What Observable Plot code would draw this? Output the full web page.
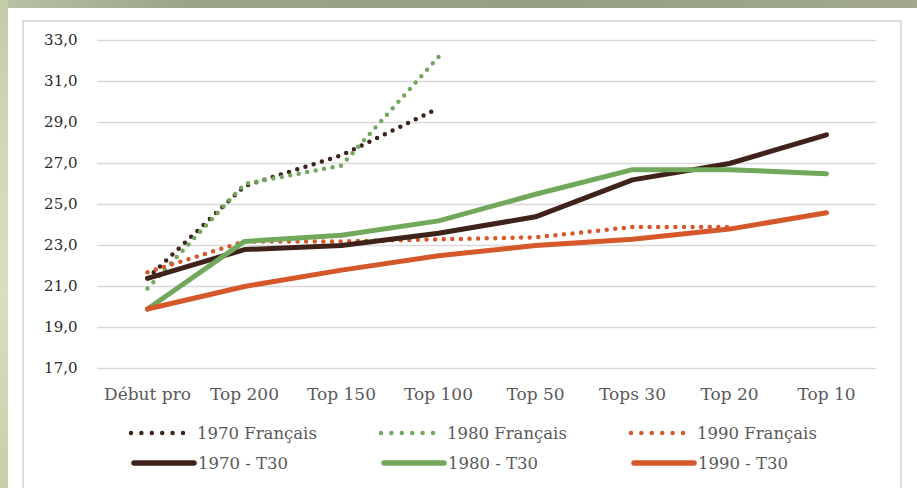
<!DOCTYPE html>
<html>
<head>
<meta charset="utf-8">
<script src="https://cdn.jsdelivr.net/npm/d3@7"></script>
<script src="https://cdn.jsdelivr.net/npm/@observablehq/plot@0.6"></script>
<style>
  html, body { margin: 0; padding: 0; background: #ffffff; }
  #wrap { position: relative; width: 917px; height: 488px; overflow: hidden; background: #ffffff; }
  #topband { position: absolute; left: 0; top: 0; width: 917px; height: 8px;
    background: linear-gradient(90deg, #b9c2a4 0%, #9ba38a 20%, #979e86 60%, #a2a890 100%); }
  #leftband { position: absolute; left: 0; top: 0; width: 8px; height: 488px;
    background: linear-gradient(180deg, #c3cca9 0%, #cfd8b8 30%, #d8dfbf 60%, #c7cfa9 100%); }
  #panel { position: absolute; left: 22px; top: 20px; width: 880px; height: 480px;
    border: 2px solid #dcdcdc; box-sizing: border-box; }
  #chart { position: absolute; left: 0; top: 0; }
  #legend { position: absolute; left: 0; top: 0; width: 917px; height: 488px; pointer-events: none;
    font-family: "DejaVu Serif", serif; font-size: 16.5px; color: #595959; }
  .item { position: absolute; display: flex; align-items: center; white-space: nowrap; }
  .item svg { display: block; margin-right: 1px; }
</style>
</head>
<body>
<div id="wrap">
  <div id="topband"></div>
  <div id="leftband"></div>
  <div id="panel"></div>
  <div id="chart"></div>
  <div id="legend"></div>
</div>
<script>
// ---- data ----
const categories = ["Début pro", "Top 200", "Top 150", "Top 100", "Top 50", "Tops 30", "Top 20", "Top 10"];
const seriesNames = ["1970 Français", "1980 Français", "1990 Français", "1970 - T30", "1980 - T30", "1990 - T30"];
const fr1970 = [21.4, 25.9, 27.4, 29.7, null, null, null, null];
const fr1980 = [20.9, 26.0, 26.9, 32.2, null, null, null, null];
const fr1990 = [21.7, 23.2, 23.2, 23.3, 23.4, 23.9, 23.9, null];
const t1970 = [21.4, 22.8, 23.0, 23.6, 24.4, 26.2, 27.0, 28.4];
const t1980 = [19.9, 23.2, 23.5, 24.2, 25.5, 26.7, 26.7, 26.5];
const t1990 = [19.9, 21.0, 21.8, 22.5, 23.0, 23.3, 23.8, 24.6];
const yTicks = [17, 19, 21, 23, 25, 27, 29, 31, 33];

const seriesValues = [fr1970, fr1980, fr1990, t1970, t1980, t1990];
const colors = ["#3f231a", "#72a85c", "#d5582b", "#3f231a", "#72a85c", "#d5582b"];
const dotted = [true, true, true, false, false, false];

const rows = [];
seriesNames.forEach((s, i) => {
  seriesValues[i].forEach((v, j) => {
    if (v != null) rows.push({series: s, cat: categories[j], value: v});
  });
});

const fmt = d => d.toFixed(1).replace(".", ",");
const font = "\"DejaVu Serif\", serif";

const marks = [
  Plot.gridY(yTicks, {stroke: "#d9d9d9", strokeOpacity: 1, strokeWidth: 1.6}),
  Plot.axisY(yTicks, {tickSize: 0, tickPadding: 20, tickFormat: fmt, fill: "#2b2b2b", fontSize: 15}),
  Plot.axisX({tickSize: 0, tickPadding: 19, fill: "#595959", fontSize: 17})
];
seriesNames.forEach((s, i) => {
  const data = rows.filter(r => r.series === s);
  if (dotted[i]) {
    marks.push(Plot.line(data, {x: "cat", y: "value", stroke: colors[i], strokeWidth: 4.5,
      strokeDasharray: "0 8.6", strokeLinecap: "round", strokeLinejoin: "round"}));
  } else {
    marks.push(Plot.line(data, {x: "cat", y: "value", stroke: colors[i], strokeWidth: 5,
      strokeLinecap: "round", strokeLinejoin: "round"}));
  }
});

const chart = Plot.plot({
  width: 917,
  height: 410,
  marginLeft: 97,
  marginRight: 41,
  marginTop: 40,
  marginBottom: 42,
  style: {background: "transparent", fontFamily: font, overflow: "visible"},
  x: {type: "point", domain: categories, padding: 0.5, label: null, axis: null},
  y: {domain: [17, 33], label: null, axis: null},
  marks
});
document.getElementById("chart").appendChild(chart);

// ---- legend ----
const legend = document.getElementById("legend");
const legendPos = [
  [128, 433], [378, 433], [628, 433],
  [131, 463], [381, 463], [631, 463]
];
seriesNames.forEach((s, i) => {
  const item = document.createElement("div");
  item.className = "item";
  item.style.left = legendPos[i][0] + "px";
  item.style.top = (legendPos[i][1] - 12) + "px";
  item.style.height = "24px";
  const w = dotted[i] ? 68 : 66;
  const sw = d3.create("svg").attr("width", w).attr("height", 10);
  sw.append("line").attr("x1", 3).attr("x2", w - 3).attr("y1", 5).attr("y2", 5)
    .attr("stroke", colors[i])
    .attr("stroke-width", dotted[i] ? 4.5 : 5.5)
    .attr("stroke-linecap", "round")
    .attr("stroke-dasharray", dotted[i] ? "0 10.4" : null);
  item.appendChild(sw.node());
  const t = document.createElement("span");
  t.textContent = s;
  item.appendChild(t);
  legend.appendChild(item);
});
</script>
</body>
</html>
